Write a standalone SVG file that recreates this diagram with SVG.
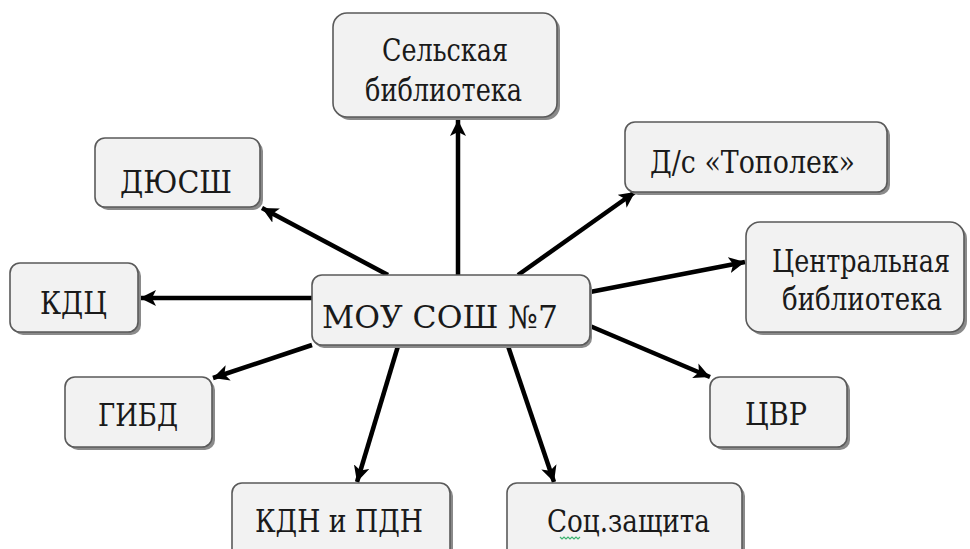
<svg xmlns="http://www.w3.org/2000/svg" width="970" height="549" viewBox="0 0 970 549">
<defs>
<style>
.box{fill:#f2f2f2;stroke:#5a5a5a;stroke-width:1.6}
.sh{fill:#8a8a8a}
.t{font-family:"DejaVu Serif","Liberation Serif",serif;font-size:31px;fill:#1a1a1a}
.c{stroke:#000;stroke-width:4.5;fill:none;marker-end:url(#ah)}
</style>
<marker id="ah" markerUnits="userSpaceOnUse" markerWidth="18" markerHeight="16" refX="16" refY="8" orient="auto">
<path d="M0,0 L16,8 L0,16 L4,8 Z" fill="#000"/>
</marker>
</defs>
<rect width="970" height="549" fill="#fff"/>
<g id="connectors">
<line class="c" x1="458" y1="275" x2="458" y2="120"/>
<line class="c" x1="388" y1="275" x2="262" y2="208"/>
<line class="c" x1="518" y1="275" x2="635" y2="192"/>
<line class="c" x1="590" y1="292" x2="745" y2="262"/>
<line class="c" x1="312" y1="298" x2="140" y2="298"/>
<line class="c" x1="312" y1="345" x2="213" y2="378"/>
<line class="c" x1="590" y1="326" x2="710" y2="377"/>
<line class="c" x1="398" y1="346" x2="357" y2="482"/>
<line class="c" x1="508" y1="346" x2="554" y2="482"/>
</g>
<g id="n-selskaya">
<rect class="sh" x="336" y="16" width="224" height="104" rx="14"/>
<rect class="box" x="333" y="13" width="224" height="104" rx="14"/>
<text class="t" x="382" y="61" textLength="126" lengthAdjust="spacingAndGlyphs">Сельская</text>
<text class="t" x="365" y="101" textLength="157" lengthAdjust="spacingAndGlyphs">библиотека</text>
</g>
<g id="n-dyussh">
<rect class="sh" x="98" y="141" width="165" height="69" rx="10"/>
<rect class="box" x="95" y="138" width="165" height="69" rx="10"/>
<text class="t" x="120" y="193" textLength="112" lengthAdjust="spacingAndGlyphs">ДЮСШ</text>
</g>
<g id="n-topolek">
<rect class="sh" x="628" y="125" width="262" height="70" rx="10"/>
<rect class="box" x="625" y="122" width="262" height="70" rx="10"/>
<text class="t" x="650" y="173" textLength="205" lengthAdjust="spacingAndGlyphs">Д/с «Тополек»</text>
</g>
<g id="n-centr">
<rect class="sh" x="749" y="225" width="218" height="110" rx="14"/>
<rect class="box" x="746" y="222" width="218" height="110" rx="14"/>
<text class="t" x="772" y="272" textLength="178" lengthAdjust="spacingAndGlyphs">Центральная</text>
<text class="t" x="782" y="310" textLength="160" lengthAdjust="spacingAndGlyphs">библиотека</text>
</g>
<g id="n-kdc">
<rect class="sh" x="13" y="266" width="128" height="69" rx="10"/>
<rect class="box" x="10" y="263" width="128" height="69" rx="10"/>
<text class="t" x="40" y="314" textLength="67" lengthAdjust="spacingAndGlyphs">КДЦ</text>
</g>
<g id="n-main">
<rect class="sh" x="314" y="278" width="278" height="70" rx="10"/>
<rect class="box" x="312" y="275" width="278" height="70" rx="10"/>
<text class="t" x="322" y="328" textLength="236" lengthAdjust="spacingAndGlyphs">МОУ СОШ №7</text>
</g>
<g id="n-gibd">
<rect class="sh" x="68" y="380" width="147" height="70" rx="10"/>
<rect class="box" x="65" y="377" width="147" height="70" rx="10"/>
<text class="t" x="98" y="426" textLength="80" lengthAdjust="spacingAndGlyphs">ГИБД</text>
</g>
<g id="n-cvr">
<rect class="sh" x="713" y="380" width="137" height="70" rx="10"/>
<rect class="box" x="710" y="377" width="137" height="70" rx="10"/>
<text class="t" x="745" y="425" textLength="62" lengthAdjust="spacingAndGlyphs">ЦВР</text>
</g>
<g id="n-kdn">
<rect class="sh" x="235" y="486" width="218" height="80" rx="10"/>
<rect class="box" x="232" y="483" width="218" height="80" rx="10"/>
<text class="t" x="255" y="532" textLength="168" lengthAdjust="spacingAndGlyphs">КДН и ПДН</text>
</g>
<g id="n-soc">
<rect class="sh" x="510" y="486" width="235" height="80" rx="10"/>
<rect class="box" x="507" y="483" width="235" height="80" rx="10"/>
<text class="t" x="547" y="532" textLength="163" lengthAdjust="spacingAndGlyphs">Соц.защита</text>
<path d="M560,537 l2,2 l2,-2 l2,2 l2,-2 l2,2 l2,-2 l2,2 l2,-2 l2,2 l2,-2" fill="none" stroke="#3cb371" stroke-width="1.2"/>
</g>
</svg>
